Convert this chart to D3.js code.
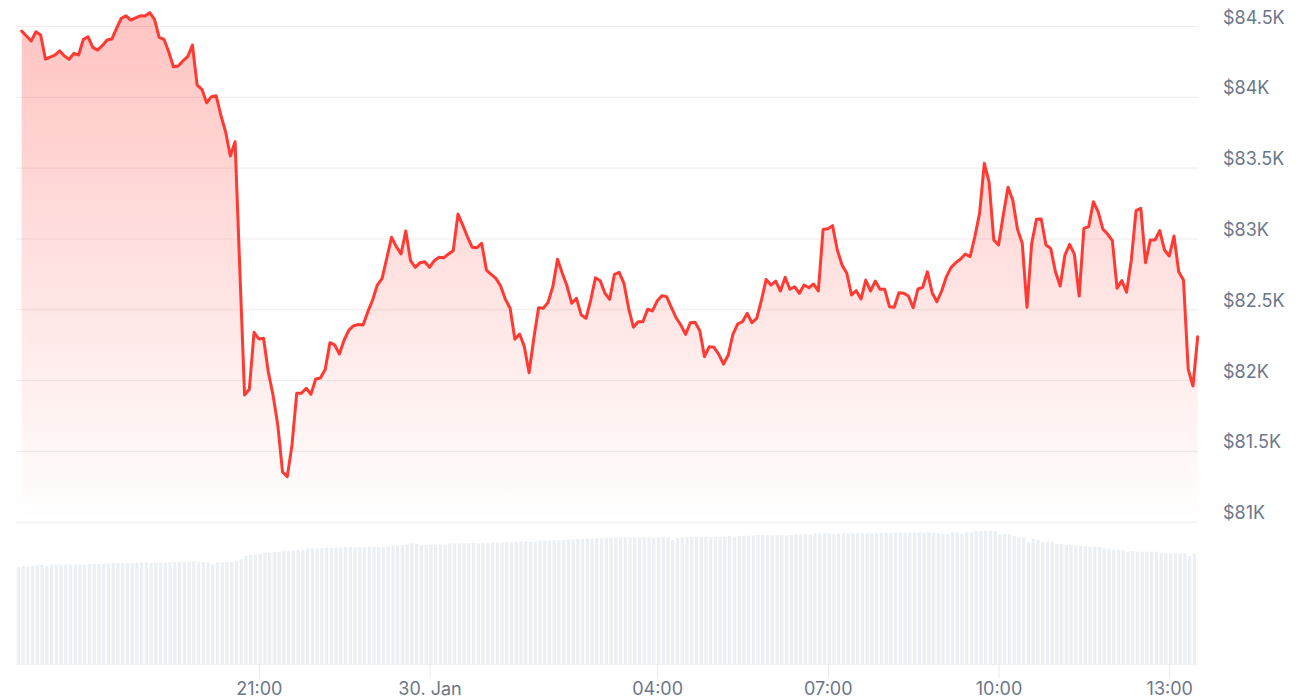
<!DOCTYPE html>
<html>
<head>
<meta charset="utf-8">
<script src="https://cdn.jsdelivr.net/npm/d3@7"></script>
<style>
  html, body { margin: 0; padding: 0; background: #ffffff; }
  svg { display: block; font-family: Inter, "Noto Sans", sans-serif; }
</style>
</head>
<body>
<svg id="chart" width="1300" height="700"></svg>
<script>
// ---- data ----
const startTime = new Date(2025, 0, 29, 16, 50);   // first sample
const stepMinutes = 5;

const prices = [
  84464, 84429, 84394, 84459, 84436, 84267, 84281, 84295, 84325, 84288,
  84265, 84307, 84295, 84406, 84424, 84349, 84330, 84361, 84401, 84408,
  84483, 84554, 84572, 84542, 84558, 84572, 84570, 84594, 84547, 84420,
  84406, 84318, 84212, 84217, 84253, 84283, 84366, 84083, 84053, 83958,
  84001, 84008, 83871, 83753, 83582, 83683, 82777, 81895, 81935, 82337,
  82290, 82295, 82059, 81895, 81683, 81353, 81318, 81542, 81907, 81907,
  81942, 81899, 82008, 82015, 82075, 82264, 82248, 82184, 82283, 82353,
  82384, 82392, 82389, 82483, 82565, 82671, 82718, 82862, 83008, 82942,
  82890, 83052, 82843, 82796, 82829, 82836, 82796, 82843, 82867, 82864,
  82890, 82913, 83172, 83095, 83012, 82937, 82934, 82966, 82777, 82747,
  82718, 82664, 82570, 82507, 82288, 82325, 82236, 82052, 82295, 82511,
  82507, 82549, 82659, 82853, 82754, 82664, 82542, 82577, 82459, 82436,
  82565, 82723, 82702, 82613, 82570, 82747, 82761, 82683, 82507, 82373,
  82412, 82412, 82500, 82488, 82558, 82596, 82589, 82514, 82440, 82389,
  82323, 82405, 82408, 82348, 82165, 82236, 82231, 82182, 82113, 82177,
  82325, 82396, 82412, 82471, 82405, 82436, 82565, 82711, 82671, 82699,
  82629, 82725, 82641, 82659, 82613, 82671, 82652, 82678, 82629, 83064,
  83069, 83090, 82918, 82812, 82754, 82601, 82631, 82572, 82706, 82629,
  82699, 82641, 82641, 82518, 82514, 82617, 82613, 82593, 82511, 82643,
  82655, 82765, 82617, 82553, 82629, 82730, 82796, 82829, 82855, 82890,
  82871, 83012, 83177, 83530, 83400, 82989, 82954, 83165, 83361, 83271,
  83064, 82966, 82514, 82966, 83135, 83137, 82954, 82930, 82765, 82664,
  82883, 82958, 82888, 82593, 83071, 83083, 83259, 83189, 83066, 83031,
  82984, 82648, 82702, 82620, 82848, 83196, 83213, 82829, 82989, 82989,
  83055, 82918, 82876, 83017, 82765, 82706, 82076, 81958, 82306
];

// rolling volume, billions USD
const volumes = [
  30.67, 30.99, 30.67, 30.99, 31.30, 31.30, 30.99, 31.30, 31.30, 31.30,
  31.46, 31.30, 31.30, 31.46, 31.46, 31.62, 31.62, 31.62, 31.78, 31.78,
  31.94, 31.94, 31.94, 31.78, 31.94, 32.09, 32.09, 32.09, 31.94, 32.09,
  32.09, 32.09, 32.25, 32.25, 32.25, 32.35, 32.35, 32.57, 32.35, 32.25,
  32.16, 31.52, 32.16, 32.16, 32.16, 32.25, 32.57, 33.11, 34.15, 34.47,
  34.62, 34.78, 35.19, 35.19, 35.41, 35.51, 35.73, 35.83, 35.83, 36.05,
  36.05, 36.58, 36.58, 36.58, 36.68, 36.84, 36.68, 36.84, 36.84, 37.00,
  37.00, 36.84, 37.00, 37.00, 37.09, 37.09, 37.00, 37.09, 37.31, 37.47,
  37.47, 37.63, 37.79, 38.17, 37.94, 37.63, 37.63, 37.72, 37.72, 37.79,
  37.79, 38.10, 38.10, 38.10, 38.17, 38.17, 38.26, 38.10, 38.26, 38.26,
  38.42, 38.42, 38.42, 38.58, 38.42, 38.58, 38.67, 38.73, 38.73, 38.67,
  38.89, 39.05, 39.05, 39.21, 39.05, 39.21, 39.37, 39.37, 39.53, 39.53,
  39.68, 39.68, 39.84, 39.84, 40.00, 40.00, 40.06, 40.06, 40.06, 40.06,
  40.06, 40.00, 40.06, 40.06, 39.84, 40.06, 40.06, 40.00, 39.21, 39.84,
  40.06, 40.06, 40.16, 40.16, 40.16, 40.25, 40.16, 40.25, 40.25, 40.25,
  40.47, 40.32, 40.47, 40.47, 40.63, 40.63, 40.79, 40.79, 40.79, 40.63,
  40.79, 40.79, 40.63, 40.79, 40.95, 40.95, 41.11, 40.95, 41.26, 41.26,
  41.33, 41.26, 41.11, 41.26, 41.33, 41.33, 41.26, 41.33, 41.33, 41.42,
  41.26, 41.33, 41.42, 41.52, 41.42, 41.58, 41.52, 41.42, 41.58, 41.64,
  41.58, 41.52, 41.64, 41.58, 41.33, 41.11, 41.11, 41.64, 41.64, 41.11,
  41.64, 41.64, 42.05, 42.05, 42.15, 42.15, 42.05, 41.11, 41.11, 41.11,
  40.57, 40.06, 40.06, 38.48, 39.53, 39.21, 38.67, 38.67, 38.67, 37.94,
  37.94, 37.63, 37.63, 37.47, 37.31, 37.15, 37.09, 37.09, 37.09, 36.68,
  36.52, 36.05, 36.05, 35.89, 35.51, 35.73, 35.51, 35.51, 35.51, 35.51,
  35.51, 35.00, 35.00, 35.00, 35.00, 35.00, 35.00, 34.15, 35.00
];

const priceTicks = [81000, 81500, 82000, 82500, 83000, 83500, 84000, 84500];
const priceTickLabels = ["$81K", "$81.5K", "$82K", "$82.5K", "$83K", "$83.5K", "$84K", "$84.5K"];
const timeTicks = [
  new Date(2025, 0, 29, 21, 0), new Date(2025, 0, 30, 0, 0), new Date(2025, 0, 30, 4, 0),
  new Date(2025, 0, 30, 7, 0), new Date(2025, 0, 30, 10, 0), new Date(2025, 0, 30, 13, 0)
];
const timeTickLabels = ["21:00", "30. Jan", "04:00", "07:00", "10:00", "13:00"];

const priceDomain = [81000, 84500];
const volumeDomain = [0, 45];

// ---- build ----
const series = prices.map((p, i) => ({
  t: new Date(startTime.getTime() + i * stepMinutes * 60000),
  p: p,
  v: volumes[i]
}));

const svg = d3.select("#chart");
const plotLeft = 16, plotRight = 1198;
const priceTop = 26, priceBottom = 521.7;
const volTop = 521.7, volBottom = 664;

const x = d3.scaleTime()
  .domain([series[0].t, series[series.length - 1].t])
  .range([21.7, 1197.7]);
const y = d3.scaleLinear().domain(priceDomain).range([priceBottom, priceTop]);
const yv = d3.scaleLinear().domain(volumeDomain).range([volBottom, volTop]);

const labelColor = "#6b778a";
const gridColor = "#ececec";
const labelFont = "Inter, 'Noto Sans', sans-serif";

// gridlines
const grid = svg.append("g")
  .attr("transform", `translate(${plotLeft},0)`)
  .call(d3.axisRight(y).tickValues(priceTicks).tickSize(plotRight - plotLeft).tickFormat(""));
grid.select(".domain").remove();
grid.selectAll(".tick line").attr("stroke", gridColor).attr("stroke-width", 1);

// volume bars
svg.append("g").selectAll("rect")
  .data(series)
  .join("rect")
  .attr("x", d => x(d.t) - 5)
  .attr("width", 3.3)
  .attr("y", d => yv(d.v))
  .attr("height", d => volBottom - yv(d.v))
  .attr("fill", "#ecf0f4");

// area gradient
const defs = svg.append("defs");
const grad = defs.append("linearGradient")
  .attr("id", "areaGrad")
  .attr("gradientUnits", "userSpaceOnUse")
  .attr("x1", 0).attr("x2", 0)
  .attr("y1", y(d3.max(prices))).attr("y2", priceBottom);
grad.append("stop").attr("offset", "0%").attr("stop-color", "#ff3a33").attr("stop-opacity", 0.3);
grad.append("stop").attr("offset", "100%").attr("stop-color", "#ff3a33").attr("stop-opacity", 0.0);

const area = d3.area()
  .x(d => x(d.t))
  .y0(priceBottom)
  .y1(d => y(d.p));
svg.append("path")
  .datum(series)
  .attr("d", area)
  .attr("fill", "url(#areaGrad)");

const line = d3.line()
  .x(d => x(d.t))
  .y(d => y(d.p));
svg.append("path")
  .datum(series)
  .attr("d", line)
  .attr("fill", "none")
  .attr("stroke", "#ff3a33")
  .attr("stroke-width", 3)
  .attr("stroke-linejoin", "round")
  .attr("stroke-linecap", "round");

// y axis labels
const yAxis = svg.append("g")
  .attr("transform", "translate(1223,0)")
  .call(d3.axisRight(y).tickValues(priceTicks).tickSize(0).tickPadding(0)
    .tickFormat((d, i) => priceTickLabels[i]));
yAxis.select(".domain").remove();
yAxis.selectAll("text")
  .attr("dy", -3)
  .attr("fill", labelColor)
  .style("font-size", "18px")
  .style("font-family", labelFont);

// x axis
const xAxis = svg.append("g")
  .attr("transform", `translate(0,${volBottom})`)
  .call(d3.axisBottom(x).tickValues(timeTicks).tickSize(14).tickPadding(4)
    .tickFormat((d, i) => timeTickLabels[i]));
xAxis.select(".domain")
  .attr("d", `M${plotLeft},0.5H${plotRight}`)
  .attr("stroke", "#eef0f3");
xAxis.selectAll(".tick line").attr("stroke", "#e6e9ee");
xAxis.selectAll("text")
  .attr("fill", labelColor)
  .style("font-size", "18px")
  .style("font-family", labelFont);
</script>
</body>
</html>
